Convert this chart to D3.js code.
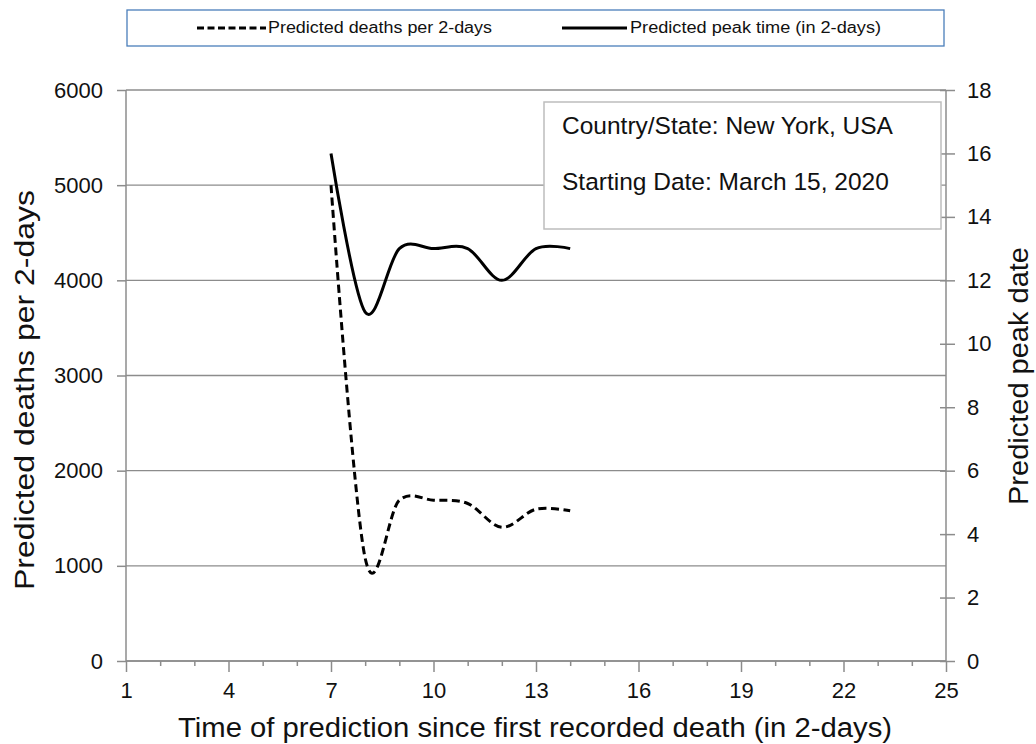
<!DOCTYPE html>
<html>
<head>
<meta charset="utf-8">
<script src="https://cdn.jsdelivr.net/npm/d3@7"></script>
<style>
  html, body { margin: 0; padding: 0; background: #fff; }
  svg { display: block; }
  text { font-family: "Liberation Sans", Arial, sans-serif; fill: #111; }
</style>
</head>
<body>
<svg id="chart" width="1036" height="744"></svg>
<script>
// ---- data ----
const timePoints = [7, 8, 9, 10, 11, 12, 13, 14];
const predictedDeaths = [5000, 1080, 1690, 1690, 1655, 1405, 1595, 1578];
const predictedPeak = [16, 11, 13, 13, 13, 12, 13, 13];
const xTicks = [1, 4, 7, 10, 13, 16, 19, 22, 25];
const yLeftTicks = [0, 1000, 2000, 3000, 4000, 5000, 6000];
const yRightTicks = [0, 2, 4, 6, 8, 10, 12, 14, 16, 18];
const legendLabels = ["Predicted deaths per 2-days", "Predicted peak time (in 2-days)"];
const infoLines = ["Country/State: New York, USA", "Starting Date: March 15, 2020"];

const svg = d3.select("#chart");
const L = 126, R = 946, T = 90, B = 661;
const gridColor = "#8c8c8c";

const x = d3.scaleLinear().domain([1, 25]).range([L, R]);
const yL = d3.scaleLinear().domain([0, 6000]).range([B, T]);
const yR = d3.scaleLinear().domain([0, 18]).range([B, T]);

// gridlines
svg.append("g").selectAll("line").data(yLeftTicks).join("line")
  .attr("x1", L).attr("x2", R)
  .attr("y1", d => yL(d)).attr("y2", d => yL(d))
  .attr("stroke", gridColor).attr("stroke-width", 1.3);

// left axis
const gl = svg.append("g").attr("transform", `translate(${L},0)`)
  .call(d3.axisLeft(yL).tickValues(yLeftTicks).tickSize(9).tickPadding(14).tickFormat(d3.format("d")));
// right axis
const gr = svg.append("g").attr("transform", `translate(${R},0)`)
  .call(d3.axisRight(yR).tickValues(yRightTicks).tickSize(9).tickPadding(12).tickFormat(d3.format("d")));
gr.selectAll(".tick line").attr("x1", -6);
// bottom axis: minor ticks
const allX = d3.range(1, 26);
const gb = svg.append("g").attr("transform", `translate(0,${B})`)
  .call(d3.axisBottom(x).tickValues(allX).tickSize(5).tickPadding(16)
    .tickFormat(d => xTicks.includes(d) ? d : ""));
gb.selectAll(".tick line").attr("y2", d => xTicks.includes(d) ? 11 : 5);

[gl, gr, gb].forEach(g => {
  g.select(".domain").attr("stroke", gridColor).attr("stroke-width", 1.5);
  g.selectAll(".tick line").attr("stroke", gridColor).attr("stroke-width", 1.5);
  g.selectAll(".tick text").style("font-size", "22px").attr("fill", "#111")
    .style("font-family", '"Liberation Sans", Arial, sans-serif');
});
gl.select(".domain").attr("d", `M0,${T}V${B}`);
gr.select(".domain").attr("d", `M0,${T}V${B}`);
gb.select(".domain").attr("d", `M${L},0H${R}`);

// info box
svg.append("rect").attr("x", 544).attr("y", 102).attr("width", 397).attr("height", 127)
  .attr("fill", "#fff").attr("stroke", "#bdbdbd").attr("stroke-width", 1.5);
svg.append("g").selectAll("text").data(infoLines).join("text")
  .attr("x", 562).attr("y", (d, i) => 134 + i * 55.5)
  .style("font-size", "24.5px").text(d => d);

// lines
const curve = d3.curveCardinal.tension(0);
const lineDeaths = d3.line().x((d, i) => x(timePoints[i])).y(d => yL(d)).curve(curve);
const linePeak = d3.line().x((d, i) => x(timePoints[i])).y(d => yR(d)).curve(curve);

svg.append("path").datum(predictedDeaths).attr("d", lineDeaths)
  .attr("fill", "none").attr("stroke", "#000").attr("stroke-width", 3)
  .attr("stroke-dasharray", "8,4.5");
svg.append("path").datum(predictedPeak).attr("d", linePeak)
  .attr("fill", "none").attr("stroke", "#000").attr("stroke-width", 3);

// axis titles
svg.append("text").attr("x", 535).attr("y", 737).attr("text-anchor", "middle")
  .attr("textLength", 714).attr("lengthAdjust", "spacingAndGlyphs")
  .style("font-size", "27px").text("Time of prediction since first recorded death (in 2-days)");
svg.append("text").attr("transform", "translate(34,390) rotate(-90)").attr("text-anchor", "middle")
  .attr("textLength", 400).attr("lengthAdjust", "spacingAndGlyphs")
  .style("font-size", "27px").text("Predicted deaths per 2-days");
svg.append("text").attr("transform", "translate(1028,376) rotate(-90)").attr("text-anchor", "middle")
  .attr("textLength", 258).attr("lengthAdjust", "spacingAndGlyphs")
  .style("font-size", "27px").text("Predicted peak date");

// legend
svg.append("rect").attr("x", 127).attr("y", 10).attr("width", 817).attr("height", 36)
  .attr("fill", "#fff").attr("stroke", "#4a7ebb").attr("stroke-width", 1.3);
svg.append("line").attr("x1", 197).attr("x2", 266).attr("y1", 28).attr("y2", 28)
  .attr("stroke", "#000").attr("stroke-width", 3).attr("stroke-dasharray", "7,3.5");
svg.append("line").attr("x1", 562).attr("x2", 627).attr("y1", 28).attr("y2", 28)
  .attr("stroke", "#000").attr("stroke-width", 3);
const legText = [{x: 268, w: 224}, {x: 630, w: 251}];
svg.append("g").selectAll("text").data(legendLabels).join("text")
  .attr("x", (d, i) => legText[i].x).attr("y", 33)
  .attr("textLength", (d, i) => legText[i].w).attr("lengthAdjust", "spacingAndGlyphs")
  .style("font-family", '"Liberation Sans Narrow", "Arial Narrow", sans-serif')
  .style("font-size", "16px").text(d => d);
</script>
</body>
</html>
